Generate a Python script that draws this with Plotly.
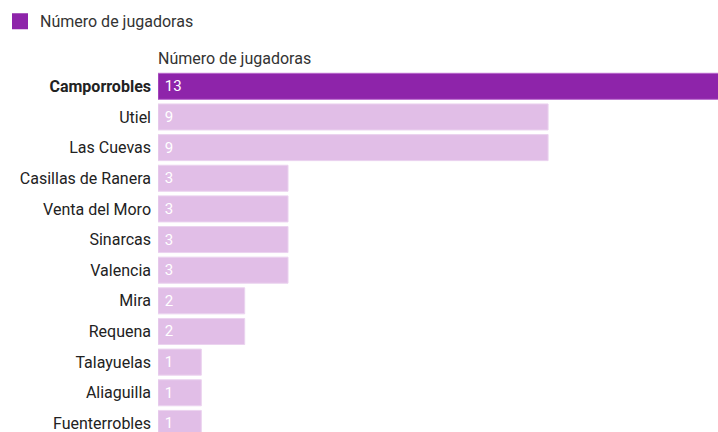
import plotly.graph_objects as go

categories = ["Camporrobles", "Utiel", "Las Cuevas", "Casillas de Ranera", "Venta del Moro",
              "Sinarcas", "Valencia", "Mira", "Requena", "Talayuelas", "Aliaguilla", "Fuenterrobles"]
values = [13, 9, 9, 3, 3, 3, 3, 2, 2, 1, 1, 1]
series_name = "Número de jugadoras"
highlight = "Camporrobles"

dark = "#8E24AA"
light = "#E1BEE7"
colors = [dark if c == highlight else light for c in categories]
line_colors = ["#B866CC" if c == highlight else "#EBD3EF" for c in categories]
ticktext = ["<b>%s</b>" % c if c == highlight else c for c in categories]

fig = go.Figure()
fig.add_trace(go.Bar(
    y=categories, x=values, orientation="h", name=series_name,
    marker=dict(color=colors, line=dict(color=line_colors, width=1)),
    width=0.85,
    text=["\u00a0" + str(v) for v in values], textposition="inside", insidetextanchor="start",
    textfont=dict(color="white", size=15, family="Roboto"),
    showlegend=False, hoverinfo="skip",
))
# legend entry
fig.add_trace(go.Scatter(
    x=[None], y=[None], mode="markers", name=series_name,
    marker=dict(symbol="square", size=18, color=dark), showlegend=True,
))
fig.update_layout(
    width=718, height=432,
    margin=dict(l=158, r=0, t=71, b=0),
    paper_bgcolor="white", plot_bgcolor="white",
    font=dict(family="Roboto", size=16, color="#333333"),
    showlegend=True,
    legend=dict(orientation="h", xref="container", yref="container", x=-0.003, y=0.99,
                xanchor="left", yanchor="top", font=dict(size=16, color="#333333"),
                itemsizing="trace", itemwidth=30),
    xaxis=dict(range=[0, 12.92], showgrid=False, showticklabels=False, zeroline=False, showline=False),
    yaxis=dict(range=[11.28, -0.5], tickmode="array", tickvals=categories, ticktext=ticktext,
               showgrid=False, zeroline=False, showline=False, ticks="", ticklabelstandoff=6,
               tickfont=dict(size=16, color="#222222")),
    annotations=[dict(text=series_name, xref="paper", yref="paper", x=0, y=1, xanchor="left",
                      yanchor="bottom", yshift=1, xshift=-2, showarrow=False,
                      font=dict(size=16, color="#333333"))],
)
fig.write_html("out.html", post_script="document.body.style.margin='0';",
               config={"displayModeBar": False})
